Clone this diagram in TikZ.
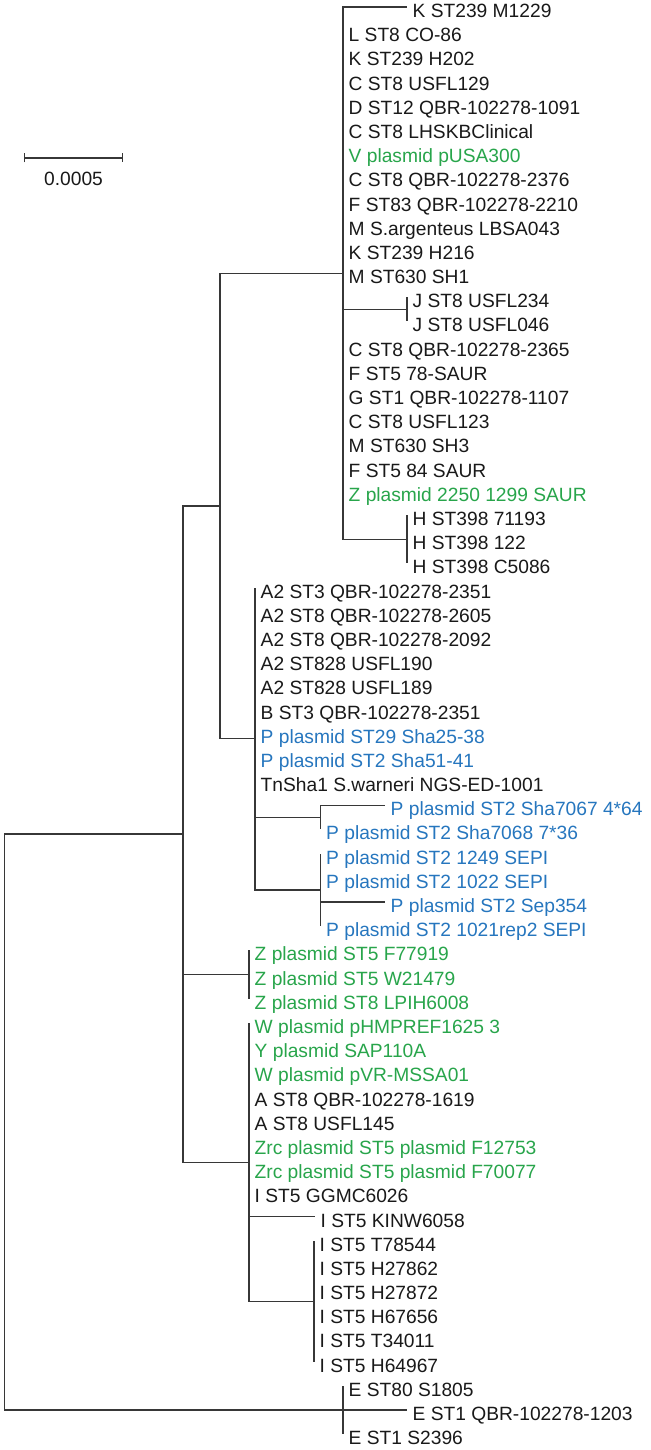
\documentclass[tikz,border=0pt]{standalone}
\usepackage{fontspec}
\setmainfont{Liberation Sans}
\usetikzlibrary{arrows.meta,positioning}
\definecolor{treecol}{RGB}{55,55,55}
\definecolor{tiptext}{RGB}{25,25,25}
\definecolor{tipgreen}{RGB}{40,165,75}
\definecolor{tipblue}{RGB}{38,118,190}

\begin{document}
\begin{tikzpicture}[x=1pt, y=-24.19pt,
  branch/.style={line width=1.2pt, treecol},
  leaf/.style={anchor=west, inner xsep=5.5pt, inner ysep=0pt, text height=21pt, text depth=0pt, font=\fontsize{19.2}{20}\selectfont, text=tiptext},
  gleaf/.style={leaf, text=tipgreen},
  bleaf/.style={leaf, text=tipblue}]
  \useasboundingbox (0,-0.2894) rectangle (650,59.652);

  \coordinate (root) at (4.5,46.1);
  \coordinate (n1) at (183,34.19);
  \coordinate (n2) at (220,20.625);
  \coordinate (ua) at (343,11);
  \coordinate (uj) at (407,12.5);
  \coordinate (uh) at (407,22);
  \coordinate (pa) at (255,30.25);
  \coordinate (pb) at (320.5,33.5);
  \coordinate (pc) at (320.5,36.5);
  \coordinate (za) at (249,40);
  \coordinate (wa) at (249,47.75);
  \coordinate (ia) at (314,53.5);
  \coordinate (ea) at (343,58);

  \node[leaf] (m1229) at (407,0) {K ST239 M1229};
  \node[leaf] (co86) at (343,1) {L ST8 CO-86};
  \node[leaf] (h202) at (343,2) {K ST239 H202};
  \node[leaf] (usfl129) at (343,3) {C ST8 USFL129};
  \node[leaf] (q1091) at (343,4) {D ST12 QBR-102278-1091};
  \node[leaf] (lhskb) at (343,5) {C ST8 LHSKBClinical};
  \node[gleaf] (pusa300) at (343,6) {V plasmid pUSA300};
  \node[leaf] (q2376) at (343,7) {C ST8 QBR-102278-2376};
  \node[leaf] (q2210) at (343,8) {F ST83 QBR-102278-2210};
  \node[leaf] (lbsa043) at (343,9) {M S.argenteus LBSA043};
  \node[leaf] (h216) at (343,10) {K ST239 H216};
  \node[leaf] (sh1) at (343,11) {M ST630 SH1};
  \node[leaf] (usfl234) at (407,12) {J ST8 USFL234};
  \node[leaf] (usfl046) at (407,13) {J ST8 USFL046};
  \node[leaf] (q2365) at (343,14) {C ST8 QBR-102278-2365};
  \node[leaf] (saur78) at (343,15) {F ST5 78-SAUR};
  \node[leaf] (q1107) at (343,16) {G ST1 QBR-102278-1107};
  \node[leaf] (usfl123) at (343,17) {C ST8 USFL123};
  \node[leaf] (sh3) at (343,18) {M ST630 SH3};
  \node[leaf] (saur84) at (343,19) {F ST5 84 SAUR};
  \node[gleaf] (saur1299) at (343,20) {Z plasmid 2250 1299 SAUR};
  \node[leaf] (h71193) at (407,21) {H ST398 71193};
  \node[leaf] (h122) at (407,22) {H ST398 122};
  \node[leaf] (c5086) at (407,23) {H ST398 C5086};

  \node[leaf] (a2q2351) at (255,24) {A2 ST3 QBR-102278-2351};
  \node[leaf] (q2605) at (255,25) {A2 ST8 QBR-102278-2605};
  \node[leaf] (q2092) at (255,26) {A2 ST8 QBR-102278-2092};
  \node[leaf] (usfl190) at (255,27) {A2 ST828 USFL190};
  \node[leaf] (usfl189) at (255,28) {A2 ST828 USFL189};
  \node[leaf] (bq2351) at (255,29) {B ST3 QBR-102278-2351};
  \node[bleaf] (sha2538) at (255,30) {P plasmid ST29 Sha25-38};
  \node[bleaf] (sha5141) at (255,31) {P plasmid ST2 Sha51-41};
  \node[leaf] (tnsha1) at (255,32) {TnSha1 S.warneri NGS-ED-1001};
  \node[bleaf] (sha7067) at (385,33) {P plasmid ST2 Sha7067 4*64};
  \node[bleaf] (sha7068) at (320.5,34) {P plasmid ST2 Sha7068 7*36};
  \node[bleaf] (sepi1249) at (320.5,35) {P plasmid ST2 1249 SEPI};
  \node[bleaf] (sepi1022) at (320.5,36) {P plasmid ST2 1022 SEPI};
  \node[bleaf] (sep354) at (385,37) {P plasmid ST2 Sep354};
  \node[bleaf] (sepi1021) at (320.5,38) {P plasmid ST2 1021rep2 SEPI};

  \node[gleaf] (f77919) at (249,39) {Z plasmid ST5 F77919};
  \node[gleaf] (w21479) at (249,40) {Z plasmid ST5 W21479};
  \node[gleaf] (lpih6008) at (249,41) {Z plasmid ST8 LPIH6008};
  \node[gleaf] (phmpref) at (249,42) {W plasmid pHMPREF1625 3};
  \node[gleaf] (sap110a) at (249,43) {Y plasmid SAP110A};
  \node[gleaf] (pvr) at (249,44) {W plasmid pVR-MSSA01};
  \node[leaf] (q1619) at (249,45) {A ST8 QBR-102278-1619};
  \node[leaf] (usfl145) at (249,46) {A ST8 USFL145};
  \node[gleaf] (f12753) at (249,47) {Zrc plasmid ST5 plasmid F12753};
  \node[gleaf] (f70077) at (249,48) {Zrc plasmid ST5 plasmid F70077};
  \node[leaf] (ggmc6026) at (249,49) {I ST5 GGMC6026};
  \node[leaf] (kinw6058) at (315,50) {I ST5 KINW6058};
  \node[leaf] (t78544) at (314,51) {I ST5 T78544};
  \node[leaf] (h27862) at (314,52) {I ST5 H27862};
  \node[leaf] (h27872) at (314,53) {I ST5 H27872};
  \node[leaf] (h67656) at (314,54) {I ST5 H67656};
  \node[leaf] (t34011) at (314,55) {I ST5 T34011};
  \node[leaf] (h64967) at (314,56) {I ST5 H64967};

  \node[leaf] (s1805) at (343,57) {E ST80 S1805};
  \node[leaf] (q1203) at (407,58) {E ST1 QBR-102278-1203};
  \node[leaf] (s2396) at (343,59) {E ST1 S2396};

  \draw[branch] (root) |- (n1) (root) |- (ea);
  \draw[branch] (n1) |- (n2) (n1) |- (za) (n1) |- (wa);
  \draw[branch] (n2) |- (ua) (n2) |- (pa);
  \draw[branch] (ua) |- (m1229.west) (ua) |- (co86.west) (ua) |- (h202.west) (ua) |- (usfl129.west)
    (ua) |- (q1091.west) (ua) |- (lhskb.west) (ua) |- (pusa300.west) (ua) |- (q2376.west)
    (ua) |- (q2210.west) (ua) |- (lbsa043.west) (ua) |- (h216.west) (ua) |- (sh1.west)
    (ua) |- (uj) (ua) |- (q2365.west) (ua) |- (saur78.west) (ua) |- (q1107.west)
    (ua) |- (usfl123.west) (ua) |- (sh3.west) (ua) |- (saur84.west) (ua) |- (saur1299.west)
    (ua) |- (uh);
  \draw[branch] (uj) |- (usfl234.west) (uj) |- (usfl046.west);
  \draw[branch] (uh) |- (h71193.west) (uh) |- (h122.west) (uh) |- (c5086.west);
  \draw[branch] (pa) |- (a2q2351.west) (pa) |- (q2605.west) (pa) |- (q2092.west) (pa) |- (usfl190.west)
    (pa) |- (usfl189.west) (pa) |- (bq2351.west) (pa) |- (sha2538.west) (pa) |- (sha5141.west)
    (pa) |- (tnsha1.west) (pa) |- (pb) (pa) |- (pc);
  \draw[branch] (pb) |- (sha7067.west) (pb) |- (sha7068.west);
  \draw[branch] (pc) |- (sepi1249.west) (pc) |- (sepi1022.west) (pc) |- (sep354.west) (pc) |- (sepi1021.west);
  \draw[branch] (za) |- (f77919.west) (za) |- (w21479.west) (za) |- (lpih6008.west);
  \draw[branch] (wa) |- (phmpref.west) (wa) |- (sap110a.west) (wa) |- (pvr.west) (wa) |- (q1619.west)
    (wa) |- (usfl145.west) (wa) |- (f12753.west) (wa) |- (f70077.west) (wa) |- (ggmc6026.west)
    (wa) |- (kinw6058.west) (wa) |- (ia);
  \draw[branch] (ia) |- (t78544.west) (ia) |- (h27862.west) (ia) |- (h27872.west) (ia) |- (h67656.west)
    (ia) |- (t34011.west) (ia) |- (h64967.west);
  \draw[branch] (ea) |- (s1805.west) (ea) |- (q1203.west) (ea) |- (s2396.west);

  \coordinate (sbl) at (24,6.24);
  \coordinate (sbr) at (123,6.24);
  \draw[branch, {Bar[width=9pt]}-{Bar[width=9pt]}] (sbl) -- (sbr);
  \node[anchor=base, font=\fontsize{19.2}{20}\selectfont, text=tiptext] (sblabel) at (73.5,7.36) {0.0005};
\end{tikzpicture}
\end{document}
